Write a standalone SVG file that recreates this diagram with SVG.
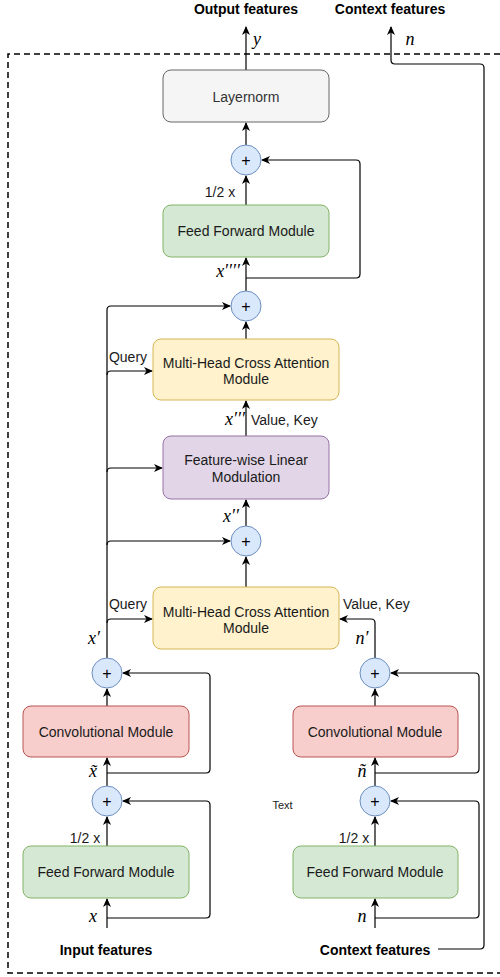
<svg xmlns="http://www.w3.org/2000/svg" width="500" height="977" viewBox="0 0 500 977">
<style>
.t{font-family:"Liberation Sans",Arial,sans-serif;font-size:14px;fill:#1a1a1a;text-anchor:middle}
.b{font-family:"Liberation Sans",Arial,sans-serif;font-size:14px;font-weight:bold;fill:#000;text-anchor:middle}
.m{font-family:"Liberation Serif","Times New Roman",serif;font-style:italic;font-size:18px;fill:#000;text-anchor:middle}
.c{fill:none;stroke:#000;stroke-width:1.2}
.plus{fill:#dae8fc;stroke:#6c8ebf;stroke-width:1}
.pt{font-family:"Liberation Sans",Arial,sans-serif;font-size:16px;fill:#000;text-anchor:middle}
</style>
<defs>
<marker id="a" markerWidth="10" markerHeight="10" refX="8" refY="4" orient="auto" markerUnits="userSpaceOnUse">
<path d="M0,0 L9,4 L0,8 L2.5,4 z" fill="#000"/>
</marker>
</defs>
<rect width="500" height="977" fill="#fff"/>
<path d="M510,54 H8 V973 H510" fill="none" stroke="#000" stroke-width="1.5" stroke-dasharray="6,4"/>

<g id="connectors">
<path class="c" d="M246,70 V27" marker-end="url(#a)"/>
<path class="c" d="M438,949 H480 Q484,949 484,945 V68 Q484,64 480,64 H395 Q391,64 391,60 V27" marker-end="url(#a)"/>
<path class="c" d="M246,145 V123" marker-end="url(#a)"/>
<path class="c" d="M246,205 V176" marker-end="url(#a)"/>
<path class="c" d="M246,278 H356 Q360,278 360,274 V164 Q360,160 356,160 H262" marker-end="url(#a)"/>
<path class="c" d="M246,291 V258" marker-end="url(#a)"/>
<path class="c" d="M107,658 V310 Q107,306 111,306 H230" marker-end="url(#a)"/>
<path class="c" d="M107,375 Q107,371 111,371 H152" marker-end="url(#a)"/>
<path class="c" d="M107,472 Q107,468 111,468 H162" marker-end="url(#a)"/>
<path class="c" d="M107,545 Q107,541 111,541 H230" marker-end="url(#a)"/>
<path class="c" d="M107,623 Q107,619 111,619 H152" marker-end="url(#a)"/>
<path class="c" d="M246,339 V322" marker-end="url(#a)"/>
<path class="c" d="M246,436 V401" marker-end="url(#a)"/>
<path class="c" d="M246,526 V500" marker-end="url(#a)"/>
<path class="c" d="M246,587 V557" marker-end="url(#a)"/>
<path class="c" d="M375,658 V623 Q375,619 371,619 H340" marker-end="url(#a)"/>
<path class="c" d="M107,706 V689" marker-end="url(#a)"/>
<path class="c" d="M107,773 H206 Q210,773 210,769 V677 Q210,673 206,673 H123" marker-end="url(#a)"/>
<path class="c" d="M107,786 V758" marker-end="url(#a)"/>
<path class="c" d="M107,846 V817" marker-end="url(#a)"/>
<path class="c" d="M107,918 H206 Q210,918 210,914 V805 Q210,801 206,801 H123" marker-end="url(#a)"/>
<path class="c" d="M107,928 V899" marker-end="url(#a)"/>
<path class="c" d="M375,706 V689" marker-end="url(#a)"/>
<path class="c" d="M375,773 H475 Q479,773 479,769 V677 Q479,673 475,673 H391" marker-end="url(#a)"/>
<path class="c" d="M375,786 V758" marker-end="url(#a)"/>
<path class="c" d="M375,846 V817" marker-end="url(#a)"/>
<path class="c" d="M375,918 H475 Q479,918 479,914 V805 Q479,801 475,801 H391" marker-end="url(#a)"/>
<path class="c" d="M375,928 V899" marker-end="url(#a)"/>
</g>

<g id="layernorm"><rect x="163" y="70" width="166" height="52" rx="8" fill="#f5f5f5" stroke="#666"/><text class="t" x="246" y="102" style="fill:#333">Layernorm</text></g>
<g id="plus-top"><circle class="plus" cx="246" cy="160" r="15"/><text class="pt" x="246" y="165.5">+</text></g>
<g id="ff-top"><rect x="163" y="205" width="166" height="52" rx="8" fill="#d5e8d4" stroke="#82b366"/><text class="t" x="246" y="236">Feed Forward Module</text></g>
<g id="plus-2"><circle class="plus" cx="246" cy="306" r="15"/><text class="pt" x="246" y="311.5">+</text></g>
<g id="mhca-top"><rect x="153" y="339" width="186" height="61" rx="8" fill="#fff2cc" stroke="#d6b656"/><text class="t" x="246" y="368">Multi-Head Cross Attention</text><text class="t" x="246" y="384">Module</text></g>
<g id="film"><rect x="163" y="436" width="166" height="63" rx="8" fill="#e1d5e7" stroke="#9673a6"/><text class="t" x="246" y="465">Feature-wise Linear</text><text class="t" x="246" y="482">Modulation</text></g>
<g id="plus-3"><circle class="plus" cx="246" cy="541" r="15"/><text class="pt" x="246" y="546.5">+</text></g>
<g id="mhca-bottom"><rect x="153" y="587" width="186" height="62" rx="8" fill="#fff2cc" stroke="#d6b656"/><text class="t" x="246" y="617">Multi-Head Cross Attention</text><text class="t" x="246" y="633">Module</text></g>
<g id="plus-4"><circle class="plus" cx="107" cy="673" r="15"/><text class="pt" x="107" y="678.5">+</text></g>
<g id="plus-5"><circle class="plus" cx="375" cy="673" r="15"/><text class="pt" x="375" y="678.5">+</text></g>
<g id="conv-left"><rect x="23" y="706" width="166" height="51" rx="8" fill="#f8cecc" stroke="#b85450"/><text class="t" x="106" y="737">Convolutional Module</text></g>
<g id="conv-right"><rect x="293" y="706" width="165" height="51" rx="8" fill="#f8cecc" stroke="#b85450"/><text class="t" x="375" y="737">Convolutional Module</text></g>
<g id="plus-6"><circle class="plus" cx="107" cy="801" r="15"/><text class="pt" x="107" y="806.5">+</text></g>
<g id="plus-7"><circle class="plus" cx="375" cy="801" r="15"/><text class="pt" x="375" y="806.5">+</text></g>
<g id="ff-left"><rect x="23" y="846" width="166" height="52" rx="8" fill="#d5e8d4" stroke="#82b366"/><text class="t" x="106" y="877">Feed Forward Module</text></g>
<g id="ff-right"><rect x="293" y="846" width="165" height="52" rx="8" fill="#d5e8d4" stroke="#82b366"/><text class="t" x="375" y="877">Feed Forward Module</text></g>

<g id="labels">
<text class="b" x="246" y="14">Output features</text>
<text class="b" x="390" y="14">Context features</text>
<text class="b" x="106" y="955">Input features</text>
<text class="b" x="375" y="955">Context features</text>
<text class="m" x="257" y="45">y</text>
<text class="m" x="410" y="45">n</text>
<text class="t" x="220" y="197">1/2 x</text>
<text class="m" x="228" y="277">x′′′′</text>
<text class="t" x="128" y="362">Query</text>
<text class="m" x="235" y="425">x′′′</text>
<text class="t" x="251" y="425" style="text-anchor:start">Value, Key</text>
<text class="m" x="231" y="522">x′′</text>
<text class="t" x="128" y="609">Query</text>
<text class="t" x="343" y="609" style="text-anchor:start">Value, Key</text>
<text class="m" x="94" y="644">x′</text>
<text class="m" x="362" y="644">n′</text>
<text class="m" x="93" y="777">x̃</text>
<text class="m" x="362" y="777">ñ</text>
<text class="t" x="282.5" y="809" style="font-size:11px">Text</text>
<text class="t" x="85" y="843">1/2 x</text>
<text class="t" x="354" y="843">1/2 x</text>
<text class="m" x="93" y="922">x</text>
<text class="m" x="362" y="922">n</text>
</g>
</svg>
